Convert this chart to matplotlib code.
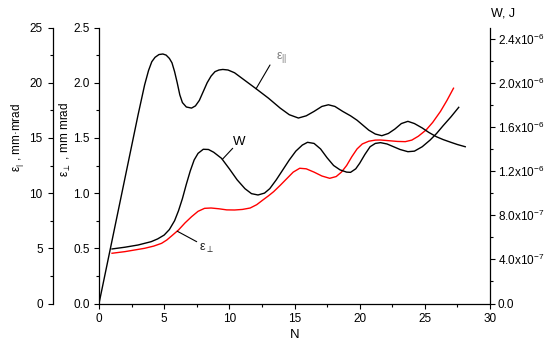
import numpy as np
import matplotlib.pyplot as plt
from matplotlib.ticker import MultipleLocator, FixedLocator, FixedFormatter

plt.rcParams["font.family"] = ["Liberation Sans", "DejaVu Sans"]
plt.rcParams["mathtext.default"] = "regular"
plt.rcParams["font.size"] = 8.5

# ---- data ----
# longitudinal emittance, mm mrad (outer left axis)
n_par = [0, 1, 2, 3, 3.5, 3.8, 4.05, 4.3, 4.6, 4.9, 5.15, 5.4, 5.6, 5.8, 6.0, 6.2,
         6.4, 6.7, 7.1, 7.4, 7.7, 8.0, 8.3, 8.6, 8.9, 9.2, 9.5, 9.9, 10.4, 11.2,
         12.0, 13.0, 13.9, 14.6, 15.3, 15.9, 16.5, 17.1, 17.6, 18.1, 18.7, 19.3,
         19.8, 20.3, 20.7, 21.2, 21.7, 22.2, 22.7, 23.2, 23.7, 24.2, 24.8, 25.3,
         25.9, 26.4, 27.0, 27.5, 28.1]
eps_par = [0, 5.7, 11.4, 17.1, 19.8, 21.1, 21.9, 22.3, 22.55, 22.6, 22.5, 22.2,
           21.8, 21.0, 20.0, 18.9, 18.2, 17.8, 17.7, 17.9, 18.4, 19.2, 20.0, 20.6,
           21.0, 21.15, 21.2, 21.15, 20.9, 20.2, 19.5, 18.6, 17.7, 17.1, 16.8, 17.0,
           17.4, 17.85, 18.0, 17.85, 17.4, 17.0, 16.6, 16.1, 15.7, 15.35, 15.2, 15.4,
           15.8, 16.3, 16.5, 16.3, 15.9, 15.5, 15.1, 14.85, 14.6, 14.4, 14.2]

# transverse emittance, mm mrad (inner left axis)
n_perp = [1.0, 2.0, 3.0, 3.5, 4.2, 4.8, 5.2, 5.6, 6.1, 6.6, 7.1, 7.6, 8.1, 8.6,
          9.2, 9.8, 10.4, 11.0, 11.6, 12.1, 12.6, 13.0, 13.4, 13.9, 14.4, 14.9,
          15.4, 15.9, 16.5, 17.1, 17.7, 18.2, 18.6, 19.0, 19.4, 19.8, 20.2, 20.7,
          21.2, 21.6, 22.2, 22.9, 23.5, 24.0, 24.5, 25.1, 25.6, 26.2, 26.7, 27.2]
eps_perp = [0.455, 0.47, 0.49, 0.50, 0.52, 0.545, 0.575, 0.615, 0.666, 0.73, 0.786,
            0.835, 0.862, 0.865, 0.858, 0.848, 0.847, 0.852, 0.865, 0.895, 0.94,
            0.975, 1.013, 1.07, 1.13, 1.19, 1.225, 1.22, 1.19, 1.155, 1.134, 1.15,
            1.19, 1.25, 1.33, 1.40, 1.445, 1.47, 1.48, 1.481, 1.475, 1.468, 1.466,
            1.48, 1.515, 1.572, 1.64, 1.74, 1.84, 1.95]

# energy W, J (right axis)
n_w = [1.0, 2.0, 3.0, 4.0, 4.5, 5.0, 5.4, 5.8, 6.1, 6.4, 6.7, 7.0, 7.3, 7.6, 8.0,
       8.4, 8.8, 9.4, 10.0, 10.6, 11.2, 11.7, 12.2, 12.7, 13.1, 13.6, 14.1, 14.6,
       15.1, 15.6, 16.0, 16.5, 17.0, 17.5, 18.0, 18.5, 19.0, 19.3, 19.7, 20.0,
       20.4, 20.8, 21.2, 21.6, 22.1, 22.6, 23.1, 23.7, 24.2, 24.8, 25.4, 25.9,
       26.4, 27.0, 27.6]
w_e7 = [4.94, 5.1, 5.3, 5.6, 5.85, 6.2, 6.7, 7.5, 8.4, 9.5, 10.8, 12.0, 13.0, 13.6,
        13.97, 13.95, 13.7, 13.15, 12.2, 11.2, 10.4, 9.95, 9.83, 10.0, 10.4, 11.2,
        12.1, 13.0, 13.8, 14.35, 14.6, 14.5, 14.0, 13.2, 12.5, 12.1, 11.9, 11.88,
        12.2, 12.7, 13.5, 14.2, 14.5, 14.57, 14.45, 14.2, 13.95, 13.75, 13.8, 14.2,
        14.8, 15.4, 16.1, 16.9, 17.77]
w = [v * 1e-7 for v in w_e7]

w_ticks = [0, 0.4e-6, 0.8e-6, 1.2e-6, 1.6e-6, 2.0e-6, 2.4e-6]
w_ticklabels = ["0.0", "4.0x10$^{-7}$", "8.0x10$^{-7}$", "1.2x10$^{-6}$",
                "1.6x10$^{-6}$", "2.0x10$^{-6}$", "2.4x10$^{-6}$"]

W_PX, H_PX = 548, 346
fig = plt.figure(figsize=(W_PX / 100, H_PX / 100), dpi=100)

def fx(px):
    return px / W_PX

def fy(py):
    return 1 - py / H_PX

# main axes: eps_perp
ax = fig.add_axes([fx(99), fy(303.5), fx(490) - fx(99), fy(27.5) - fy(303.5)])
ax1 = ax.twinx()   # eps_par, outer left
ax2 = ax.twinx()   # W, right

tick_kw = dict(direction="out", width=0.8, labelsize=8.5)
for a in (ax, ax1, ax2):
    for s in a.spines.values():
        s.set_visible(False)
        s.set_linewidth(0.9)
    a.patch.set_visible(False)

ax.spines["left"].set_visible(True)
ax.spines["bottom"].set_visible(True)
ax.set_xlim(0, 30)
ax.set_ylim(0, 2.5)
ax.xaxis.set_major_locator(MultipleLocator(5))
ax.xaxis.set_minor_locator(MultipleLocator(2.5))
ax.yaxis.set_major_locator(MultipleLocator(0.5))
ax.yaxis.set_minor_locator(MultipleLocator(0.25))
ax.yaxis.set_major_formatter(plt.FormatStrFormatter("%.1f"))
ax.tick_params(which="major", length=3.6, pad=3, **tick_kw)
ax.tick_params(which="minor", length=2.2, direction="out", width=0.8)
ax.set_xlabel("N", fontsize=9.5, labelpad=3)

ax1.spines["left"].set_visible(True)
ax1.spines["left"].set_position(("axes", -0.1169))
ax1.yaxis.set_ticks_position("left")
ax1.set_ylim(0, 25)
ax1.yaxis.set_major_locator(MultipleLocator(5))
ax1.yaxis.set_minor_locator(MultipleLocator(2.5))
ax1.tick_params(which="major", length=3.6, pad=4, **tick_kw)
ax1.tick_params(which="minor", length=2.2, direction="out", width=0.8)

ax2.spines["right"].set_visible(True)
ax2.set_ylim(0, 2.5e-6)
ax2.yaxis.set_major_locator(FixedLocator(w_ticks))
ax2.yaxis.set_major_formatter(FixedFormatter(w_ticklabels))
ax2.yaxis.set_minor_locator(MultipleLocator(0.2e-6))
ax2.tick_params(which="major", length=3.6, pad=2, **tick_kw)
ax2.tick_params(which="minor", length=2.2, direction="out", width=0.8)

# curves
ax1.plot(n_par, eps_par, color="black", lw=1.0)
ax.plot(n_perp, eps_perp, color="red", lw=1.0)
ax2.plot(n_w, w, color="black", lw=1.0)

# axis titles
fig.text(fx(18), fy(137), "ε$_{|}$ , mm·mrad", rotation=90, ha="center", va="center",
         fontsize=8.5)
fig.text(fx(65), fy(139), "ε$_{\\perp}$ , mm mrad", rotation=90, ha="center",
         va="center", fontsize=8.5)
fig.text(fx(491), fy(14), "W, J", ha="left", va="center", fontsize=9)

# curve labels with leader lines
line_kw = dict(arrowstyle="-", color="black", lw=0.8, shrinkA=0, shrinkB=0)
ax1.annotate("", xy=(12.05, 19.45), xytext=(fx(270), fy(65)),
             textcoords="figure fraction", arrowprops=line_kw)
fig.text(fx(276), fy(58), "ε$_{||}$", ha="left", va="center", fontsize=9,
         color="#808080")
ax2.annotate("", xy=(9.46, 13.05e-7), xytext=(fx(232.7), fy(148.3)),
             textcoords="figure fraction", arrowprops=line_kw)
fig.text(fx(233), fy(142), "W", ha="left", va="center", fontsize=9.5)
ax.annotate("", xy=(6.0, 0.655), xytext=(fx(196.7), fy(241.7)),
            textcoords="figure fraction", arrowprops=line_kw)
fig.text(fx(199), fy(248), "ε$_{\\perp}$", ha="left", va="center", fontsize=9,
         color="#222222")

fig.savefig("out.png", dpi=100)
